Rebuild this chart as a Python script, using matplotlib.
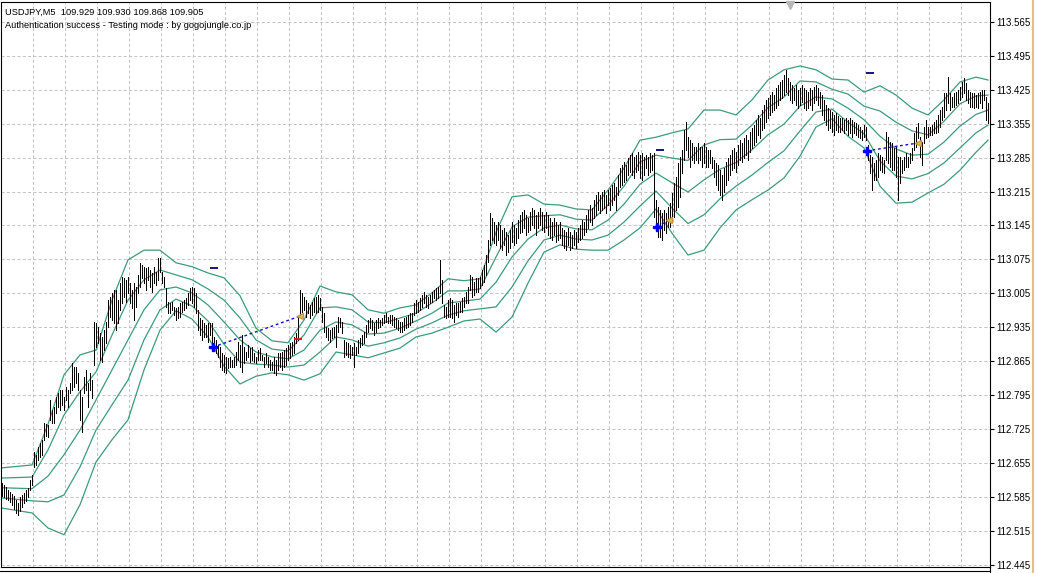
import numpy as np
import matplotlib
matplotlib.use("Agg")
import matplotlib.pyplot as plt
from matplotlib.lines import Line2D

# ==============================
# DATA
# ==============================

symbol_line = "USDJPY,M5  109.929 109.930 109.868 109.905"
status_line = "Authentication success - Testing mode : by gogojungle.co.jp"

price_ticks = [112.445, 112.515, 112.585, 112.655, 112.725, 112.795, 112.865,
               112.935, 113.005, 113.075, 113.145, 113.215, 113.285, 113.355,
               113.425, 113.495, 113.565]

bar_high = [
    112.614, 112.610, 112.606, 112.600, 112.596, 112.592, 112.586, 112.579, 112.573, 112.584,
    112.590, 112.594, 112.600, 112.604, 112.620, 112.631, 112.678, 112.672, 112.688, 112.697,
    112.703, 112.738, 112.736, 112.734, 112.785, 112.764, 112.770, 112.791, 112.800, 112.806,
    112.806, 112.791, 112.812, 112.806, 112.820, 112.862, 112.853, 112.853, 112.841, 112.806,
    112.791, 112.833, 112.847, 112.820, 112.841, 112.826, 112.946, 112.944, 112.935, 112.923,
    112.915, 112.929, 112.946, 112.991, 112.997, 113.006, 113.012, 113.012, 112.991, 113.027,
    113.039, 113.037, 113.033, 113.039, 113.027, 113.012, 113.027, 113.018, 113.043, 113.068,
    113.064, 113.060, 113.057, 113.060, 113.053, 113.047, 113.060, 113.049, 113.078, 113.078,
    113.049, 113.039, 113.016, 112.987, 112.985, 112.987, 112.977, 112.975, 112.977, 112.985,
    112.987, 112.991, 112.995, 113.006, 113.016, 113.018, 113.016, 113.006, 112.971, 112.954,
    112.950, 112.944, 112.940, 112.944, 112.944, 112.944, 112.915, 112.909, 112.898, 112.894,
    112.882, 112.878, 112.874, 112.872, 112.874, 112.868, 112.874, 112.884, 112.905, 112.898,
    112.919, 112.894, 112.884, 112.898, 112.892, 112.894, 112.882, 112.874, 112.888, 112.892,
    112.878, 112.874, 112.882, 112.874, 112.868, 112.864, 112.874, 112.868, 112.882, 112.882,
    112.884, 112.888, 112.892, 112.898, 112.903, 112.905, 112.915, 112.923, 112.956, 113.012,
    113.006, 112.997, 112.991, 112.985, 112.981, 112.987, 112.995, 112.997, 113.002, 112.995,
    112.977, 112.964, 112.935, 112.933, 112.929, 112.933, 112.935, 112.940, 112.956, 112.954,
    112.946, 112.909, 112.905, 112.903, 112.898, 112.894, 112.903, 112.894, 112.909, 112.913,
    112.919, 112.925, 112.940, 112.950, 112.954, 112.950, 112.944, 112.950, 112.954, 112.950,
    112.954, 112.960, 112.964, 112.956, 112.960, 112.960, 112.956, 112.954, 112.950, 112.946,
    112.946, 112.954, 112.956, 112.960, 112.964, 112.964, 112.985, 112.991, 112.987, 112.995,
    113.002, 113.008, 113.002, 112.997, 113.002, 113.008, 113.012, 113.016, 113.018, 113.074,
    113.033, 112.981, 112.977, 112.991, 112.995, 112.991, 112.981, 112.985, 112.985, 112.987,
    112.995, 112.997, 113.008, 113.018, 113.043, 113.039, 113.029, 113.037, 113.037, 113.039,
    113.053, 113.064, 113.084, 113.115, 113.171, 113.160, 113.152, 113.146, 113.152, 113.146,
    113.136, 113.140, 113.132, 113.125, 113.136, 113.152, 113.146, 113.140, 113.156, 113.167,
    113.173, 113.177, 113.167, 113.160, 113.173, 113.181, 113.177, 113.167, 113.173, 113.181,
    113.173, 113.167, 113.173, 113.167, 113.160, 113.152, 113.160, 113.152, 113.146, 113.152,
    113.140, 113.136, 113.132, 113.140, 113.132, 113.125, 113.136, 113.132, 113.140, 113.146,
    113.156, 113.152, 113.167, 113.177, 113.187, 113.181, 113.198, 113.208, 113.214, 113.208,
    113.214, 113.218, 113.208, 113.218, 113.222, 113.229, 113.233, 113.224, 113.249, 113.263,
    113.270, 113.276, 113.270, 113.284, 113.290, 113.294, 113.286, 113.290, 113.296, 113.290,
    113.294, 113.286, 113.290, 113.286, 113.294, 113.290, 113.294, 113.198, 113.183, 113.177,
    113.171, 113.177, 113.171, 113.183, 113.191, 113.212, 113.233, 113.245, 113.274, 113.286,
    113.301, 113.342, 113.358, 113.327, 113.321, 113.315, 113.307, 113.307, 113.315, 113.307,
    113.307, 113.315, 113.307, 113.301, 113.301, 113.286, 113.280, 113.274, 113.270, 113.259,
    113.249, 113.263, 113.276, 113.284, 113.290, 113.301, 113.305, 113.296, 113.311, 113.321,
    113.315, 113.325, 113.332, 113.321, 113.338, 113.346, 113.352, 113.363, 113.373, 113.367,
    113.383, 113.394, 113.404, 113.408, 113.414, 113.420, 113.414, 113.428, 113.435, 113.441,
    113.445, 113.455, 113.466, 113.449, 113.441, 113.435, 113.428, 113.435, 113.424, 113.428,
    113.435, 113.428, 113.424, 113.420, 113.428, 113.424, 113.431, 113.435, 113.428, 113.420,
    113.414, 113.404, 113.394, 113.387, 113.383, 113.379, 113.373, 113.377, 113.371, 113.367,
    113.367, 113.363, 113.367, 113.363, 113.367, 113.363, 113.358, 113.356, 113.352, 113.348,
    113.342, 113.352, 113.348, 113.311, 113.290, 113.286, 113.274, 113.280, 113.294, 113.290,
    113.286, 113.280, 113.338, 113.327, 113.317, 113.315, 113.305, 113.307, 113.286, 113.286,
    113.280, 113.286, 113.294, 113.286, 113.294, 113.305, 113.336, 113.348, 113.356, 113.327,
    113.317, 113.348, 113.363, 113.348, 113.348, 113.352, 113.358, 113.363, 113.373, 113.383,
    113.389, 113.418, 113.418, 113.451, 113.418, 113.410, 113.418, 113.420, 113.424, 113.431,
    113.441, 113.449, 113.439, 113.424, 113.420, 113.418, 113.418, 113.414, 113.418, 113.420,
    113.424, 113.424, 113.410, 113.398,
]

bar_low = [
    112.586, 112.584, 112.581, 112.579, 112.575, 112.569, 112.561, 112.552, 112.548, 112.556,
    112.565, 112.573, 112.577, 112.584, 112.600, 112.610, 112.647, 112.651, 112.661, 112.668,
    112.672, 112.703, 112.711, 112.709, 112.744, 112.738, 112.738, 112.758, 112.770, 112.764,
    112.775, 112.764, 112.785, 112.770, 112.800, 112.806, 112.812, 112.820, 112.806, 112.744,
    112.719, 112.800, 112.806, 112.770, 112.806, 112.790, 112.857, 112.894, 112.903, 112.868,
    112.864, 112.888, 112.903, 112.935, 112.956, 112.950, 112.944, 112.929, 112.944, 112.971,
    112.985, 112.997, 112.987, 113.006, 112.985, 112.975, 112.950, 112.977, 113.006, 113.018,
    113.037, 113.027, 113.012, 113.033, 113.018, 113.008, 113.027, 113.023, 113.033, 113.049,
    113.027, 113.018, 112.977, 112.964, 112.964, 112.971, 112.960, 112.950, 112.954, 112.956,
    112.966, 112.971, 112.975, 112.981, 112.991, 112.985, 112.977, 112.964, 112.929, 112.919,
    112.909, 112.915, 112.915, 112.905, 112.919, 112.903, 112.888, 112.882, 112.874, 112.853,
    112.847, 112.843, 112.841, 112.851, 112.853, 112.853, 112.853, 112.857, 112.868, 112.853,
    112.843, 112.862, 112.868, 112.874, 112.864, 112.868, 112.864, 112.862, 112.868, 112.868,
    112.868, 112.853, 112.862, 112.853, 112.847, 112.847, 112.841, 112.837, 112.847, 112.853,
    112.847, 112.853, 112.857, 112.868, 112.872, 112.878, 112.882, 112.903, 112.909, 112.956,
    112.966, 112.971, 112.956, 112.964, 112.954, 112.960, 112.966, 112.964, 112.966, 112.971,
    112.946, 112.925, 112.915, 112.909, 112.905, 112.913, 112.915, 112.894, 112.925, 112.935,
    112.923, 112.874, 112.878, 112.874, 112.872, 112.878, 112.853, 112.878, 112.882, 112.894,
    112.898, 112.903, 112.915, 112.925, 112.933, 112.929, 112.919, 112.925, 112.933, 112.935,
    112.940, 112.944, 112.946, 112.944, 112.944, 112.940, 112.935, 112.933, 112.929, 112.925,
    112.925, 112.929, 112.933, 112.935, 112.940, 112.946, 112.960, 112.964, 112.966, 112.971,
    112.977, 112.985, 112.977, 112.975, 112.985, 112.987, 112.995, 112.991, 112.995, 113.006,
    112.985, 112.956, 112.954, 112.956, 112.956, 112.954, 112.946, 112.960, 112.956, 112.966,
    112.966, 112.977, 112.985, 112.985, 113.012, 112.997, 113.002, 113.008, 113.008, 113.016,
    113.023, 113.029, 113.043, 113.070, 113.105, 113.115, 113.109, 113.105, 113.115, 113.099,
    113.094, 113.105, 113.084, 113.090, 113.099, 113.111, 113.105, 113.109, 113.119, 113.130,
    113.132, 113.140, 113.125, 113.132, 113.136, 113.146, 113.140, 113.125, 113.140, 113.146,
    113.136, 113.132, 113.140, 113.125, 113.119, 113.115, 113.125, 113.111, 113.115, 113.119,
    113.105, 113.099, 113.094, 113.105, 113.094, 113.099, 113.105, 113.099, 113.111, 113.115,
    113.119, 113.125, 113.132, 113.140, 113.152, 113.146, 113.160, 113.167, 113.177, 113.171,
    113.177, 113.181, 113.171, 113.187, 113.177, 113.187, 113.198, 113.177, 113.208, 113.224,
    113.229, 113.235, 113.239, 113.249, 113.255, 113.249, 113.243, 113.255, 113.259, 113.243,
    113.239, 113.249, 113.263, 113.249, 113.255, 113.259, 113.162, 113.142, 113.121, 113.121,
    113.115, 113.136, 113.130, 113.142, 113.142, 113.156, 113.162, 113.177, 113.183, 113.204,
    113.253, 113.280, 113.301, 113.286, 113.266, 113.280, 113.274, 113.280, 113.274, 113.280,
    113.266, 113.274, 113.266, 113.266, 113.274, 113.263, 113.245, 113.229, 113.218, 113.208,
    113.198, 113.214, 113.229, 113.239, 113.249, 113.259, 113.263, 113.255, 113.270, 113.280,
    113.276, 113.284, 113.290, 113.280, 113.296, 113.305, 113.311, 113.317, 113.332, 113.325,
    113.342, 113.346, 113.358, 113.367, 113.373, 113.379, 113.383, 113.387, 113.394, 113.404,
    113.408, 113.414, 113.420, 113.414, 113.404, 113.398, 113.404, 113.394, 113.387, 113.394,
    113.400, 113.387, 113.383, 113.387, 113.394, 113.383, 113.398, 113.404, 113.394, 113.387,
    113.373, 113.363, 113.352, 113.342, 113.346, 113.338, 113.332, 113.342, 113.338, 113.338,
    113.342, 113.336, 113.342, 113.332, 113.336, 113.327, 113.336, 113.332, 113.327, 113.325,
    113.321, 113.327, 113.321, 113.280, 113.253, 113.218, 113.239, 113.239, 113.245, 113.259,
    113.255, 113.253, 113.280, 113.274, 113.266, 113.259, 113.259, 113.245, 113.198, 113.233,
    113.253, 113.259, 113.266, 113.266, 113.274, 113.280, 113.301, 113.307, 113.325, 113.286,
    113.270, 113.315, 113.325, 113.327, 113.332, 113.332, 113.336, 113.336, 113.338, 113.348,
    113.363, 113.369, 113.383, 113.398, 113.383, 113.389, 113.389, 113.394, 113.398, 113.404,
    113.410, 113.418, 113.404, 113.398, 113.389, 113.389, 113.387, 113.389, 113.387, 113.398,
    113.387, 113.404, 113.363, 113.356,
]

# bollinger lines, sampled every 8 bars
band_idx = [0] + list(range(15, 488, 8)) + [493]

bb_upper2 = [
    112.645, 112.651, 112.735, 112.837, 112.878, 112.888, 112.991, 113.074, 113.094, 113.094,
    113.068, 113.060, 113.047, 113.037, 113.000, 112.933, 112.907, 112.903, 112.950, 113.020,
    113.008, 113.002, 112.971, 112.964, 112.975, 112.981, 113.006, 113.035, 113.031, 113.035,
    113.131, 113.204, 113.208, 113.189, 113.187, 113.179, 113.177, 113.218, 113.263, 113.321,
    113.327, 113.336, 113.344, 113.383, 113.383, 113.373, 113.404, 113.445, 113.466, 113.474,
    113.466, 113.447, 113.445, 113.420, 113.433, 113.414, 113.387, 113.373, 113.404, 113.441,
    113.451, 113.445,
]
bb_upper1 = [
    112.624, 112.626, 112.682, 112.754, 112.802, 112.843, 112.919, 112.991, 113.033, 113.053,
    113.043, 113.033, 113.014, 112.991, 112.954, 112.909, 112.890, 112.886, 112.919, 112.975,
    112.977, 112.971, 112.946, 112.944, 112.954, 112.964, 112.985, 113.010, 113.010, 113.014,
    113.080, 113.142, 113.162, 113.165, 113.167, 113.158, 113.156, 113.187, 113.226, 113.276,
    113.290, 113.284, 113.279, 113.311, 113.322, 113.323, 113.352, 113.388, 113.410, 113.443,
    113.441, 113.426, 113.416, 113.391, 113.381, 113.358, 113.340, 113.332, 113.360, 113.396,
    113.412, 113.414,
]
bb_middle = [
    112.604, 112.602, 112.628, 112.672, 112.723, 112.785, 112.847, 112.909, 112.971, 113.012,
    113.018, 113.006, 112.981, 112.946, 112.909, 112.884, 112.874, 112.870, 112.888, 112.929,
    112.946, 112.940, 112.921, 112.923, 112.933, 112.948, 112.964, 112.985, 112.989, 112.993,
    113.028, 113.080, 113.117, 113.140, 113.146, 113.138, 113.136, 113.156, 113.189, 113.230,
    113.253, 113.233, 113.214, 113.239, 113.261, 113.275, 113.301, 113.332, 113.354, 113.391,
    113.410, 113.406, 113.387, 113.363, 113.329, 113.303, 113.290, 113.292, 113.317, 113.350,
    113.374, 113.383,
]
bb_lower1 = [
    112.583, 112.577, 112.575, 112.589, 112.647, 112.723, 112.775, 112.826, 112.909, 112.971,
    112.993, 112.979, 112.948, 112.900, 112.863, 112.859, 112.857, 112.853, 112.857, 112.884,
    112.915, 112.909, 112.896, 112.903, 112.913, 112.931, 112.944, 112.960, 112.969, 112.973,
    112.977, 113.018, 113.072, 113.115, 113.125, 113.117, 113.115, 113.125, 113.152, 113.185,
    113.216, 113.181, 113.149, 113.167, 113.200, 113.226, 113.249, 113.275, 113.299, 113.340,
    113.379, 113.385, 113.358, 113.334, 113.278, 113.247, 113.241, 113.252, 113.274, 113.305,
    113.336, 113.352,
]
bb_lower2 = [
    112.562, 112.552, 112.521, 112.507, 112.569, 112.657, 112.703, 112.744, 112.847, 112.929,
    112.969, 112.952, 112.915, 112.855, 112.818, 112.834, 112.841, 112.837, 112.826, 112.839,
    112.884, 112.878, 112.872, 112.882, 112.892, 112.915, 112.923, 112.935, 112.948, 112.952,
    112.925, 112.956, 113.026, 113.090, 113.105, 113.096, 113.094, 113.094, 113.115, 113.140,
    113.179, 113.129, 113.084, 113.094, 113.140, 113.177, 113.198, 113.218, 113.243, 113.288,
    113.348, 113.365, 113.329, 113.305, 113.226, 113.191, 113.193, 113.212, 113.230, 113.259,
    113.296, 113.321,
]

# trades: entry (blue cross), exit (gold triangle), target level (navy dash)
entry_idx = [105.5, 327.5, 432.5]
entry_price = [112.894, 113.142, 113.299]
exit_idx = [149.0, 333.5, 458.0]
exit_price = [112.958, 113.156, 113.315]
target_idx = [106.0, 329.0, 434.0]
target_price = [113.057, 113.301, 113.459]
stop_idx = [147.75]
stop_price = [112.911]

# ==============================
# FIGURE / AXES
# ==============================

W, H = 1037, 573
fig = plt.figure(figsize=(W / 100, H / 100), dpi=100)
fig.patch.set_facecolor("white")

ax = fig.add_axes([1 / W, (H - 567) / H, 989 / W, 565 / H])
ax.set_xlim(-0.5, 494)
ax.set_ylim(112.4405, 113.6059)
ax.set_facecolor("white")

font = ["Liberation Sans", "DejaVu Sans"]
grid_col = "#C4C4C4"

# grid
grid_idx = np.arange(15.5, 480, 16)
ax.vlines(grid_idx, 112.4405, 113.6059, colors=grid_col, lw=0.75,
          linestyles=(0, (2.9, 2.2)), zorder=1)
ax.hlines(price_ticks, -0.5, 494, colors=grid_col, lw=0.75,
          linestyles=(0, (2.9, 2.2)), zorder=1)

# bands
band_col = "#3C9C78"
for line in [bb_upper2, bb_upper1, bb_middle, bb_lower1, bb_lower2]:
    ax.plot(band_idx, line, color=band_col, lw=0.9, zorder=2)

# bars (1 px wide, 2 px apart)
idx = np.arange(len(bar_high))
ax.vlines(idx, bar_low, bar_high, colors="black", lw=0.72, antialiased=False, zorder=3)

# trades
for i in range(3):
    ax.plot([entry_idx[i], exit_idx[i]], [entry_price[i], exit_price[i]],
            color="#1010C8", lw=1.0, ls=(0, (2, 2)), zorder=4)
    ax.hlines(target_price[i], target_idx[i] - 2, target_idx[i] + 2,
              colors="#10108A", lw=1.4, zorder=4)
ax.hlines(stop_price, np.array(stop_idx) - 2, np.array(stop_idx) + 2,
          colors="#D02020", lw=1.4, zorder=4)
ax.plot(entry_idx, entry_price, ls="none", marker="P", ms=5.5,
        color="#0000FF", mec="#0000FF", zorder=5)
ax.plot(exit_idx, exit_price, ls="none", marker="<", ms=5,
        color="#E8B860", mec="#C89840", zorder=5)

# shift marker at the top
ax.plot([394], [113.600], ls="none", marker="v", ms=6, color="#B8B8B8",
        zorder=5, clip_on=False)

# axes styling
for s in ax.spines.values():
    s.set_color("black")
    s.set_linewidth(0.8)
ax.yaxis.tick_right()
ax.set_yticks(price_ticks)
ax.set_yticklabels([f"{v:.3f}" for v in price_ticks], fontfamily=font)
ax.tick_params(axis="y", direction="out", length=3, width=0.8, pad=1.5,
               labelsize=7, colors="black")
ax.tick_params(axis="x", bottom=False, labelbottom=False)

# header text
fig.text(5 / W, 1 - 15 / H, symbol_line, fontsize=6.7, family=font, va="baseline")
fig.text(5 / W, 1 - 28 / H, status_line, fontsize=6.7, family=font, va="baseline")

# window frame bits
fig.add_artist(Line2D([0, 990 / W], [1 - 571 / H] * 2, color="black", lw=0.8))
fig.add_artist(Line2D([990 / W] * 2, [0, 1 - 567 / H], color="black", lw=0.8))
fig.add_artist(Line2D([1033 / W] * 2, [0, 1], color="#E2C37C", lw=1.5))

fig.savefig("out.png", dpi=100)
